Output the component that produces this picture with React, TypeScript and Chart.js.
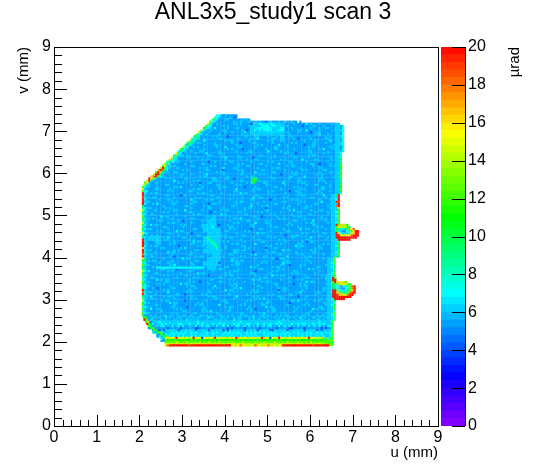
import React, { useEffect, useRef } from "react";
import { Chart, registerables } from "chart.js";

Chart.register(...registerables);

const titleText = "ANL3x5_study1 scan 3";
const uLabel = "u (mm)";
const vLabel = "v (mm)";
const zLabel = "µrad";
const FONT = "'Liberation Sans', Arial, sans-serif";

// main body, cells 0.1 mm wide; first row v=7.35, first column u=2.05
const bodyRows = [
  ".......... .........5 555",
  ".......... ........55 555555",
  ".......... .......555 5555556677 7766555555 5555556",
  ".......... ......5555 5555556777 7677555555 5555556",
  ".......... ....555555 5555556666 6666555555 5555556",
  ".......... ...5555555 5555555655 5556555555 5555556",
  ".......... ..55555555 5555555555 5555555555 5555556",
  ".......... .555555555 5555555555 5555555555 5555556",
  ".......... 5555555555 5555555555 5555555555 5555556",
  ".........5 5555555555 5555555555 5555555555 5555556",
  "........55 5555555555 5555555555 5555555555 5555556",
  ".......555 5555555555 5555555555 5555555555 5555556",
  "......5555 5555555555 5555555555 5555555555 5555556",
  ".....55555 5555555555 5555555555 5555555555 5555556",
  "....555555 5555555555 5555555555 5555555555 5555556",
  "...5555555 5555555655 5555555555 5555555555 5555556",
  "..55555555 5555555555 5555555555 5555555555 5555556",
  ".555555555 5555555555 5555555555 5555555555 5555556",
  ".555555555 5555555555 5555555555 5555555555 5555556",
  ".555555555 5555555555 5555555555 5555555555 555556",
  ".555555555 5555555555 5555555555 5555555555 555556",
  ".555555555 5555555555 5555555555 5555555555 555556",
  ".555555555 5555555555 5555555555 5555555555 555556",
  ".555555555 5555555555 5555555555 5555555555 555556",
  ".555555555 5555555655 5555555555 5555555555 555556",
  ".555555555 5555556655 5555555555 5555555555 555556",
  ".555555555 5555566655 5555555555 5555555555 555556",
  ".555555555 5555566665 5555555555 5555555555 555556",
  ".655555555 5555556665 5555555555 5555555555 555556",
  ".566655555 5555566665 5555555555 5555555555 555556",
  ".555655555 5555566665 5555555555 5555555555 555556",
  ".555555555 5555556665 5555555555 5555555555 555556",
  ".555555555 5555566665 5565555555 5555555555 555556",
  ".555555555 5555555665 5555555555 5555555555 555556",
  ".555555555 5555556665 5555555555 5555555555 55556",
  ".555555555 5555566665 5555555555 5555555555 55556",
  ".555555555 5555556655 5555555555 5555555555 55556",
  ".555555555 5555555555 5555555555 5555555555 55556",
  ".555555555 5555555555 5555555555 5555555555 55556",
  ".555555555 5555555555 5555555555 5555555555 55556",
  ".555555555 5555555555 5555555555 5555555555 55556",
  ".555555555 5555555555 5555555555 5555555555 55556",
  ".555555555 5555555555 5555555555 5555555555 55556",
  ".555555555 5555555555 5555555555 5555555555 55556",
  ".555555555 5555555555 5555555555 5555555555 55556",
  ".555555555 5555555555 5555555555 5555555555 55556",
  ".555555555 5555555555 5555555555 5555555555 55556",
  ".555555555 5555555555 5555555555 5555555555 55556",
  ".555555555 5555555555 5555555555 5555555555 55556",
  "..55666666 6666666666 6666666666 6666666666 66666",
  "..55555555 5555555555 5555555555 5555555555 55555",
  "...5566666 6666666666 6666666666 6666666666 66666",
  "....556666 6666666666 6666666666 6666666666 66666",
  ".....5cccc cccccccccc cccccccccc cccccccccc ccccc",
  "......cccc cccccccccc cccccccccc cccccccccc ccccc",
];

// speckle over the body, cells 0.05 mm wide, dots leave the body value showing.
// each row starts at the first body cell of its row; first row v=7.375
const speckleRows = [
  "..6.....", "6...6.4.",
  "....66......6.6..7", "6.......6..6...6.",
  "..6.......66.6....4.....6.6..66.......6.....7.6...6.....6...6.",
  "6....6.6.........6...66....6.....6.6......4....66...6.......7.",
  "...7.....6...66.......6.......6.66.....6........6...6..66......6....",
  ".6.....66.......6.4....6.6......6.........66..7.....6......6.6......",
  "....6.......6..6.....7....66...........6.6....6.....4..66.......6...6.",
  "..66.....6..........6.6.......6...66......6...........6.7...6....66...",
  "6.......6.6....4.......66.........6...6.....66.......6.......6.6.....6...",
  "....6......66.......6.....6..7......66........6.4.....6......66.......6..",
  ".6....7.........6.66.......6........6.6...66.........6....6......7..6.....",
  "...66......6.......6...4.....66.......6........6.6.......66....6.........6.",
  "6.......6....66........6.........6.6.......7...6.......4...66........6..6..",
  "...6.6........6...7.....66......6........66....6.........6.6.......66.......",
  ".66.......6..........6.6....4..........6...66.......6......6....6.7....6...66.",
  "....6...66.......6.......6.....66.......7.....6..6.........66.......6.....6...",
  "6.......6....7.....66...........6.6.......6.......66...4......6.....6.6.......66",
  "..6.6.........66.....6......6.........66.....6.......6.......6.66..........6..6.",
  "......66...6..........6.7.....66.....4.......6.6........66.....6.........6.....6..",
  ".6...........6.66.......6.........6...66..........6.6.......7.....66......6.6.....",
  "...66.....6.......4..6......66........6.......6.6.......66......6.........6...66..",
  "6......6.......66.........6.....6.6.......66.......7.....6........66..4....6.......6",
  "..7.6.......66.......6.6..........6...66.......6.........6.66........6.......6.6....",
  ".....66.........6..6.......7....66.........6......6.66.........6........66......6..6",
  ".6........6.6........66......4......6.6........66.........6.......6.6.......66.....6.",
  "...6..66..........6.......6.66........6.....7.......66.......6.6..........6....66....",
  "6..........66...6......7.......6.......66.......6.6.......4.....66.........6.6......6",
  "..66.......6........6.66.........6........6.66.......6........66.....7.......6.....66.",
  "......6.6......66...........6.....66..4.........6.......66......6...6.........66.......",
  ".6........7........6.66.......6..........66.......6.6.........6.....66........6.6......6",
  "...66.........6.6.......4...66.........6......6.......66.......7......6.66.........6....",
  "6.......66..........6...6.......66.......6.6...........66.......6.........6...66.....6..",
  "..6...6.......66.7.........6.......6.66........4....6........66.......6.6..........66..6",
  ".....66.....6..........6.66........6.......7.......6.66.........6........6.6.......66...",
  ".7.........6.6.......66........6..........66.......6......6.6.......4..66.........6....6",
  "...6.66..........6.......6.66.......6........7.66.........6.......6.....66.......6.6....",
  "6.........66.....4.6...........66.......6.6.........66.......6..........6.66........7...6",
  "..6.66........6.........6.6.......66..........6....7..66.........6.6..........66.....6..",
  ".......6...66.........7......6.66.......6.........66.......4.6.......6.66.........6....6",
  ".66..........6.6.......66..........6.......6.66.........6........66......6.6.......7....",
  "....6.7......66.......6.......4.66.........6......6..6.......66.........6.......66.....6",
  "6........6.........66.......6.6..........66.......7....6.66.........6.......6.6.......6.",
  "..66......6.6.........6.......66.....6.........6.66......4.......6.6.......66..........6",
  ".....6........66...7.......6........6.66.......6.........66.........6.7.......6...66....",
  ".6.......6.6.........66........4.6..........66.......6.6........6.......66......6.....6.",
  "...66..........6.......6.66.........7.6........66..........6.6.......6.......66.......6.",
  "6.......7.66.......6.........66.......6.6..........66..4......6.......6.66.........6....",
  "..6.6........6........66.......6..........66.7.......6.........6.66........6.......6.6..",
  ".......66.......6.4........6.66.........6.......66.......6.6..........66.......7.....6.",
  ".6.........6.66.......6.........66........6.6.......7....66.........6.......6.66......6.",
  "...7.66..........6.6.......66......4...6..........66.......6.......6.6.........66.......6",
  "6........66.......6........6.6..7.......66.........6.......6.66.........6........6.6.....",
  "..66.......6...........66.......6.......6.6.......4...66.........6.......7..66.......6...",
  "......6.6......7.66.........6.........66.......6.6.........6.......66..........6.6......6",
  ".6.........66.......6.4.......6.66.........6.........7.66.......6.........6.6.......66...",
  "...66.6.........6........66.........6.6.......66..........6.......4..6.66.........6......",
  "6........6.7......66.........6........6.66.........6.......6.6.......66.......7.......6.6",
  "..6.......66.........6.6.......4.66..........6.......66........6.6..........66.......6...",
  ".....66.......6........7.66..........6.6.......6.......66.........6.......6.4.66.........6",
  ".6..........6.6.......66.........6.......6.66.......7.........6.6.......66..........6.6..",
  "...6.66.........4........6.66.........6.......66.........6.6...........7.66.......6......",
  "6.......66.......6.7.........66.......6........6.6.......4...66.........6.......6.66.....",
  "..66..........6.6.......66..........6.......6.66.........6.......7.66.........6.6.......6",
  ".....6.....7.66.......6.........6.6.......66.......4......6.66.........6.......66.......6",
  ".6.6.........6.......66.......6.........66........6.7..........66.......6.6.........6....",
  "...66.......6.4.........6.66.........6.......6.6........66.........7.......6.66.........6",
  "6........6........7.66.........6.6.......66.........6.......6.4.66..........6.......6.6..",
  "..6.66.......6..........66.......6.......7.6.66.........6.........66.......6.6.........6.",
  ".......6...66.........6.......6.6..4.......66..........6.6.......7.66.........6.......66.",
  ".66.........6.7.......66.........6.......6.66........6..........66..4....6.6.........6...",
  "....6.6.........66..........6.6.......66..........7.6.......6.66.........6.......66......",
  "6.......66.....4.......6.........6.66.......6.........66.......6.6...........7.6.......6.",
  "..7........6.6.......66.........6.......6.66........4.......6.6.......66..........6...66.",
  ".....66..........6.......7.66.........6.6.........66.......6.........6.66.......6........",
  ".6.......6.6.......66.........4.......6.66..........6.......7.6.66.........6.......6.6...",
  "...66..........6.......6.6.........66.......6.........6.66..........6.4.....66.......6...",
  "6.....7.6.66.........6.........66.......6.6........7.66.........6.......6.6..........66..",
  "..6.......66.........6.6..4........66..........6.......6.66.........6.......7.66........6",
  ".......6.6.......7.66.........6.........6.66.......6.........66.......4..6.6.........6...",
  ".66.........6.......6.66.........7.......6.6.........66.......6..........6.66.........6..",
  "....6.4......66.........6.......6.6.......66.7.........6.......6.66.........6.......66...",
  "6........6.6.........66.......6.......7.66.........6.6.........4.66.......6.........6.6..",
  "..66.......7........6.6.......66..........6.......6.66.........6.......6.7.......66.....6",
  ".....6.........66..4.......6.6.........66.......6.........6.6.......66..........6.......7",
  ".6.7.....6.66.........6.......6.66.........7.......6.6.........66.......4...6.........66.",
  "...66.........6.......6.6........66.......6.........6.6.7.......66.........6.......6.6...",
  "6.......6.66.......4.........6.......66.........6.6.......6..........66.7.......6.6......",
  "..6.........7.66.........6.6..........66.......6.......6.66.........4.......6.......66...",
  ".....66.......6.........6.66.......7.........6.6.......66..........6.......6.6.......6...",
  ".6.6.........66.....4.......6.........6.66.......6.......7.66.........6.6.........66.....",
  "...7..66.......6.6.........66...........6.......6.6.4.......66.........6.......7.6.66....",
  "6.......6.........66.......6.6.7.......66.........6.......6.66........6.......6.......66.",
  ".66..........6.6.......66.........6..........66.......6.7.......6.6.........66.......6...",
  "...6.6...66.6...6.66..6...66.6.6...66..6.6...6.66..6...66.6...6.6.66...6..66.6...6.66..6.",
  "6...66.6..7.6...66...6.6.66...7.6...66.6..6.66...6.7..6.66...6.6...66.6..7.6...66.6..6.66",
  ".6.66...6.6...66.6..7.6.66...6...66.6.6...7.66...6.6.66...6...66.7.6...6.66..6...66.6.6..",
  "..66.7.6...66.6..6.66..7...6.66.6...6.66...7.6.66...6.6..66..7.6...66.6.6...66..7.6..66.6",
  "6.7..67.7..66.77.6.7..67.7.66.7.67.7...67.7.6.77.6.7.67..7.67.7.66.7.67.77.6.7.67.7..67.7",
  ".7.66.77.6.7.67.7..66.7.67.77.6.7.67.7.6.77.67.7.6.7.67.77.6.7.67.7.6.7.66.7.67.7.6.77.67",
  ".4.......4.....4......44......4......4.4.....4......4.......4.....44.....4.......4.4......",
  "...4.4......4.......4.....4......4.4.......4.....4.....44......4.......4.....4.4......4...",
  "7.7.7..6.7.7.7.7..7.7..6.7..7.7.6.7.7.7.7.6.7.7.7.7.7..7.7.6.7.7..7.7.6.7.7..7.7.7.7..6.7",
  "..7.7.7.7.7.7.6.7.7..7.7..7..6.7.7.7.7.7..7.7.7.6.7.7.7.7.7.7.7.6.7.7.7.7..7.7.6.7.7.7.7.",
  ".7.8.7.7..7.7.7.7.8.7.7.7.7.7.7.8.7.7..7.7.7.7.7.8.7.7.7..7.7.7.7.8.7.7.7.7.7.7..8.7.7.7.",
  "7.7.7.8.7.7.7.7.7.7.7.8.7.7.7..7.7.8.7.7.7.7.7.7.8.7.7.7.7..7.7.8.7.7.7.7.7.8.7.7.7.7.7.7",
];

// fine edge cells, 0.05 mm wide
const topEdgeTopV = 7.225;
const topEdgeU = 4.6;
const topEdgeRows = ["5565655456555655655655.5"];
const diagTopV = 7.375;
const diagStartU = [3.8,3.75,3.7,3.64,3.59,3.54,3.49,3.43,3.38,3.33,3.27,3.22,3.17,3.11,3.06,3.01,2.95,2.9,2.85,2.79,2.74,2.69,2.63,2.58,2.53,2.48,2.42,2.37,2.32,2.26,2.21,2.16,2.11,2.09];
const diagRows = ["7765","8765","a875","c765","e865","c775","a876","e765","g865","c775","a875","887a","e875","a886","8a76","e875","c876","7a86","g875","8c76","e875","g876","8a77","e875","cg96","ekc76","gkia7","ckg86","ekkc6","gikc7","kge85","ek965","cg855","e8655"];

const leftRimTopV = 5.675;
const leftRimOuter = "cgckkjkkka8ea8ca8ec8a8ea8kkkkgkkikga8ca8eac88ca8ckika8eac8c8ca";
const leftRimInner = "76776876757867688676767576867678768a7868767676877687686767667";

const lowerTopV = 2.575;
const lowerStartU = [2.08,2.1,2.13,2.16,2.2,2.25,2.32,2.4,2.48,2.56];
const lowerRows = ["ca","kc","cg","ka","ca","ac","ca","ac","ca","ac7"];

const rightTopV = [7.125, 6.475, 5.475, 3.975, 2.475];
const rightStartU = [6.7, 6.7, 6.6, 6.5, 6.5];
const rightRows = [
  ["57","58","67","57","57","67","58","57","68","67","58","57","68"],
  ["7","8","8","a","8","a","c","a","8","c","a","c","a","8","a","c","a","c","a","8"],
  ["ak","6k","7k","kj","6k","ik","6g","6a","7c","6a","7c","6c","6a","7c","68","6a","7c","68","6a","7c","6c","7a","68","6a","7c","6a","68","7a","6c","6a"],
  ["6c","6a","7c","68","7a","68","6a","7c","6a","7c","68","6a","7c","6a","6a","6c","7a","68","6a","7c","6a","68","7a","6c","6a","68","6c","7a","68","6a"],
  ["c","a","c","a","c","c","a","c","a","c","a","c"],
];

const upperEarU = 6.6;
const upperEarTopV = 4.775;
const upperEarRows = ["kcegec","cgeeeca","a8876acgi","c765578cgkk","kg76668egkk","kkgegegikkk","kkkkkkkkkk",".kkkkkk"];

const lowerEarU = 6.52;
const lowerEarTopV = 3.515;
const lowerEarRows = ["kc","kk","ckegegc","a8ceegeca","a7765788cik",".a765578cik","kkc7768acgk","kkgcc88cikk","kkkggeeikk","kkkkkkkkk",".kkkkk"];

const bandStartU = 2.6;
const bandTopV = 2.09;
const bandRows = [
  "fgefgkfefgfefkgfe4gfefgkefgfgefgfkgfefgefgfefkgfe4fefkgfegfefgfefgfkefgfeg",
  "cbcbccbcbcbbcbcbcbcbbcbcbcbcbbcbcbcbcbbcbcbcbcbbcbcbcbcbbcbcbcbcbbcbcbcbcb",
  "cdcdcedcdcecdcdcecdcedcdcecdcdcedcdcecdcdcecdcedcdcecdcdcedcdcecdcdcecdcdc",
  "fefgefefgefefefgfefegefefgefefegfefefgefefegefgefefegefefgefefefgefefegefeg",
];
const bottomTopV = 1.915;
const bottomRows = [
  "gikkkkkkkkkjkkkkkkkkkkkkkkkkkkkfegfigfegfeigfegfiegfefgkkkkkkkkkkkkkkjkkkkkkk",
];
const starLineTopV = 3.76;
const starLineU = 2.4;
const starLineRows = ["7777777777777777777777"];
const starDiagTopV = 4.475;
const starDiagU = [3.55,3.6,3.65,3.7,3.75,3.8];
const starDiagRows = ["88","88","88","88","88","8"];
const spotTopV = 5.875;
const spotU = 4.62;
const spotRows = ["9a8","aca","8a"];

const uTicks = [0,1,2,3,4,5,6,7,8,9];
const vTicks = [0,1,2,3,4,5,6,7,8,9];
const zMax = 20;
const bandCount = 50;
const bodyLevels: Record<string, number> = { "4": 4.2, "5": 5.4, "6": 6, "7": 7 };
const colorStops: [number, number, number, number][] = [
  [0, 140, 0, 255],
  [2.7, 0, 0, 255],
  [7, 0, 255, 255],
  [11, 0, 255, 0],
  [15.5, 255, 255, 0],
  [20, 255, 0, 0],
];

function colorOf(value: number) {
  const step = zMax / bandCount;
  const bin = Math.min(bandCount - 1, Math.floor(value / step));
  const z = (bin + 0.5) * step;
  for (let i = 1; i < colorStops.length; i++) {
    const a = colorStops[i - 1];
    const b = colorStops[i];
    if (z <= b[0]) {
      const t = (z - a[0]) / (b[0] - a[0]);
      return `rgb(${Math.round(a[1] + (b[1] - a[1]) * t)},${Math.round(a[2] + (b[2] - a[2]) * t)},${Math.round(a[3] + (b[3] - a[3]) * t)})`;
    }
  }
  return "rgb(255,0,0)";
}

function valueOf(ch: string) {
  if (bodyLevels[ch] !== undefined) return bodyLevels[ch];
  if (ch >= "0" && ch <= "9") return Number(ch);
  return 10 + ch.charCodeAt(0) - 97;
}

type Cell = { x: number; y: number; z: number };

const cleanRows = bodyRows.map((r) => r.replace(/ /g, ""));

function bodyCells(): Cell[] {
  const out: Cell[] = [];
  cleanRows.forEach((row, r) => {
    for (let i = 0; i < row.length; i++) {
      if (row[i] !== ".") out.push({ x: 2.05 + 0.1 * i, y: 7.35 - 0.1 * r, z: valueOf(row[i]) });
    }
  });
  return out;
}

function addPatch(out: Cell[], top: number, start: number | number[], rows: string[]) {
  rows.forEach((row, r) => {
    const u0 = Array.isArray(start) ? start[r] : start;
    for (let i = 0; i < row.length; i++) {
      if (row[i] !== ".") out.push({ x: u0 + 0.025 + 0.05 * i, y: top - 0.05 * r, z: valueOf(row[i]) });
    }
  });
}

function addSpeckle(out: Cell[]) {
  speckleRows.forEach((row, r) => {
    const base = cleanRows[Math.floor(r / 2)];
    if (!base) return;
    const first = base.search(/[^.]/);
    for (let i = 0; i < row.length; i++) {
      const col = first + Math.floor(i / 2);
      if (row[i] !== "." && col < base.length) {
        out.push({ x: 2 + first * 0.1 + 0.025 + 0.05 * i, y: 7.375 - 0.05 * r, z: valueOf(row[i]) });
      }
    }
  });
}

function fineCells(): Cell[] {
  const out: Cell[] = [];
  addPatch(out, topEdgeTopV, topEdgeU, topEdgeRows);
  addSpeckle(out);
  addPatch(out, starLineTopV, starLineU, starLineRows);
  addPatch(out, starDiagTopV, starDiagU, starDiagRows);
  addPatch(out, spotTopV, spotU, spotRows);
  addPatch(out, diagTopV, diagStartU, diagRows);
  const leftRows = leftRimOuter.split("").map((c, i) => c + (leftRimInner[i] || ""));
  addPatch(out, leftRimTopV, 2.06, leftRows);
  addPatch(out, lowerTopV, lowerStartU, lowerRows);
  rightRows.forEach((rows, i) => addPatch(out, rightTopV[i], rightStartU[i], rows));
  addPatch(out, bandTopV, bandStartU, bandRows);
  addPatch(out, bottomTopV, bandStartU, bottomRows);
  addPatch(out, upperEarTopV, upperEarU, upperEarRows);
  addPatch(out, lowerEarTopV, lowerEarU, lowerEarRows);
  return out;
}

const framePlugin = {
  id: "rootFrame",
  afterDraw(chart: any) {
    const { ctx, chartArea: a, scales } = chart;
    const x = scales.x;
    const y = scales.y;
    ctx.save();
    ctx.strokeStyle = "#000";
    ctx.lineWidth = 1;
    ctx.strokeRect(Math.round(a.left) + 0.5, Math.round(a.top) + 0.5, Math.round(a.right - a.left), Math.round(a.bottom - a.top));
    ctx.beginPath();
    for (let i = 0; i < uTicks.length - 1; i++) {
      for (let k = 0; k < 5; k++) {
        const px = Math.round(x.getPixelForValue(uTicks[i] + k / 5)) + 0.5;
        ctx.moveTo(px, a.bottom);
        ctx.lineTo(px, a.bottom - (k === 0 ? 11 : 6));
      }
    }
    for (let i = 0; i < vTicks.length - 1; i++) {
      for (let k = 0; k < 5; k++) {
        const py = Math.round(y.getPixelForValue(vTicks[i] + k / 5)) + 0.5;
        ctx.moveTo(a.left, py);
        ctx.lineTo(a.left + (k === 0 ? 13 : 8), py);
      }
    }
    ctx.stroke();
    ctx.fillStyle = "#000";
    ctx.font = `23px ${FONT}`;
    ctx.textAlign = "center";
    ctx.textBaseline = "middle";
    ctx.fillText(titleText, chart.width / 2 - 1, 13);
    ctx.restore();
  },
};

const barTicksPlugin = {
  id: "barTicks",
  afterDraw(chart: any) {
    const { ctx, chartArea: a, scales } = chart;
    ctx.save();
    ctx.strokeStyle = "#000";
    ctx.lineWidth = 1;
    ctx.beginPath();
    ctx.moveTo(a.right + 0.5, a.top);
    ctx.lineTo(a.right + 0.5, a.bottom);
    for (let z = 0; z <= zMax; z += 2) {
      const py = Math.round(scales.y.getPixelForValue(z)) + 0.5;
      ctx.moveTo(a.right, py);
      ctx.lineTo(a.right - 13, py);
    }
    ctx.stroke();
    ctx.translate(515, 47);
    ctx.rotate(-Math.PI / 2);
    ctx.fillStyle = "#000";
    ctx.font = `15px ${FONT}`;
    ctx.textAlign = "right";
    ctx.textBaseline = "middle";
    ctx.fillText(zLabel, 0, 0);
    ctx.restore();
  },
};

export default function App() {
  const mainRef = useRef<HTMLCanvasElement>(null);
  const barRef = useRef<HTMLCanvasElement>(null);

  useEffect(() => {
    const coarse = bodyCells();
    const fine = fineCells();
    const main = new Chart(mainRef.current as HTMLCanvasElement, {
      type: "scatter",
      data: {
        datasets: [
          {
            data: fine,
            pointStyle: "rect",
            pointRadius: 1.6,
            pointBorderWidth: 0,
            pointBackgroundColor: fine.map((c) => colorOf(c.z)),
          },
          {
            data: coarse,
            pointStyle: "rect",
            pointRadius: 3.15,
            pointBorderWidth: 0,
            pointBackgroundColor: coarse.map((c) => colorOf(c.z)),
          },
        ],
      } as any,
      options: {
        responsive: false,
        animation: false,
        events: [],
        layout: { padding: { right: 110, top: 47 } },
        plugins: {
          legend: { display: false },
          tooltip: { enabled: false },
          title: { display: false },
        },
        scales: {
          x: {
            type: "linear",
            min: 0,
            max: 9,
            grid: { display: false, drawTicks: false },
            border: { display: false },
            afterFit: (s: any) => { s.height = 48; },
            ticks: { stepSize: 1, autoSkip: false, maxRotation: 0, padding: 2, color: "#000", font: { family: FONT, size: 16 } },
            title: { display: true, text: uLabel, align: "end", color: "#000", font: { family: FONT, size: 15 }, padding: { top: 0, bottom: 12 } },
          },
          y: {
            type: "linear",
            min: 0,
            max: 9,
            grid: { display: false, drawTicks: false },
            border: { display: false },
            afterFit: (s: any) => { s.width = 54; },
            ticks: { stepSize: 1, autoSkip: false, padding: 3, color: "#000", font: { family: FONT, size: 16 } },
            title: { display: true, text: vLabel, align: "end", color: "#000", font: { family: FONT, size: 15 }, padding: { top: 15, bottom: 0 } },
          },
        },
      } as any,
      plugins: [framePlugin],
    });

    const step = zMax / bandCount;
    const bands = Array.from({ length: bandCount }, (_, i) => i);
    const bar = new Chart(barRef.current as HTMLCanvasElement, {
      type: "bar",
      data: {
        labels: [zLabel],
        datasets: bands.map((i) => ({
          data: [step],
          backgroundColor: colorOf((i + 0.5) * step),
          borderWidth: 0,
          barPercentage: 1,
          categoryPercentage: 1,
          stack: "z",
        })),
      },
      options: {
        responsive: false,
        animation: false,
        events: [],
        layout: { padding: { left: 441, top: 47, bottom: 48 } },
        plugins: { legend: { display: false }, tooltip: { enabled: false } },
        scales: {
          x: { display: false, stacked: true },
          y: {
            position: "right",
            stacked: true,
            min: 0,
            max: zMax,
            grid: { display: false, drawTicks: false },
            border: { display: false },
            afterFit: (s: any) => { s.width = 83; },
            ticks: { stepSize: 2, autoSkip: false, padding: 3, color: "#000", font: { family: FONT, size: 16 } },
          },
        },
      } as any,
      plugins: [barTicksPlugin],
    });

    return () => {
      main.destroy();
      bar.destroy();
    };
  }, []);

  const style: React.CSSProperties = { position: "absolute", left: 0, top: 0, display: "block" };
  return (
    <div style={{ position: "fixed", left: 0, top: 0, width: 548, height: 474, background: "#fff", overflow: "hidden" }}>
      <canvas ref={mainRef} width={548} height={474} style={style} />
      <canvas ref={barRef} width={548} height={474} style={style} />
    </div>
  );
}
